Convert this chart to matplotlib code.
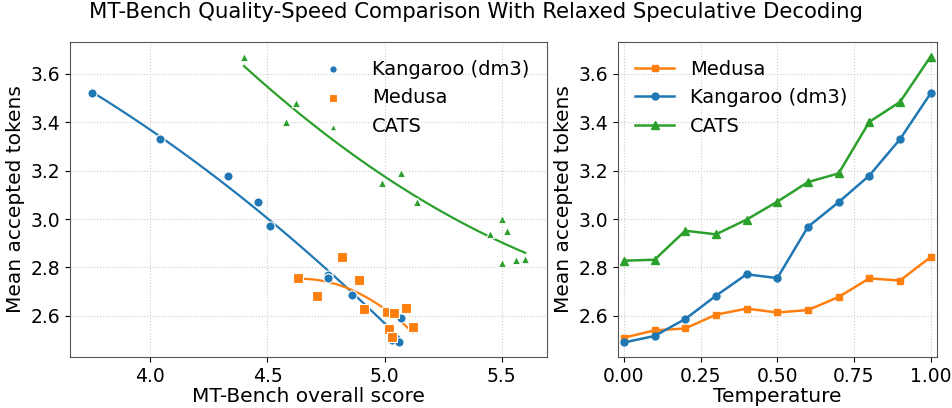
import numpy as np
import matplotlib
matplotlib.use("Agg")
import matplotlib.pyplot as plt

plt.rcParams.update({"font.size": 14, "axes.edgecolor": "#555555"})

C_MED, C_KAN, C_CATS = "#ff7f0e", "#1f77b4", "#2ca02c"

# ---- left panel: MT-Bench score vs mean accepted tokens
kan_score = [3.75, 4.04, 4.33, 4.46, 4.51, 4.76, 4.76, 4.86, 5.07, 5.03, 5.06]
kan_tok = [3.52, 3.33, 3.18, 3.07, 2.97, 2.77, 2.755, 2.685, 2.59, 2.50, 2.49]

med_score = [4.63, 4.71, 4.82, 4.89, 4.91, 5.01, 5.04, 5.09, 5.12, 5.02, 5.03]
med_tok = [2.758, 2.681, 2.845, 2.749, 2.629, 2.618, 2.61, 2.634, 2.553, 2.545, 2.513]

cats_score = [4.40, 4.62, 4.58, 4.99, 5.07, 5.14, 5.45, 5.50, 5.52, 5.50, 5.56, 5.60]
cats_tok = [3.67, 3.48, 3.40, 3.15, 3.19, 3.07, 2.937, 3.00, 2.95, 2.82, 2.83, 2.835]

# ---- right panel: temperature sweep
temps = [0.0, 0.1, 0.2, 0.3, 0.4, 0.5, 0.6, 0.7, 0.8, 0.9, 1.0]
med_t = [2.51, 2.54, 2.548, 2.605, 2.63, 2.614, 2.624, 2.678, 2.755, 2.746, 2.843]
kan_t = [2.49, 2.517, 2.587, 2.683, 2.772, 2.756, 2.968, 3.07, 3.18, 3.33, 3.52]
cats_t = [2.828, 2.832, 2.952, 2.937, 2.998, 3.072, 3.153, 3.189, 3.402, 3.484, 3.672]

fig, (axL, axR) = plt.subplots(1, 2, figsize=(9.52, 4.08), dpi=100,
                               gridspec_kw={"width_ratios": [477, 319]})
fig.subplots_adjust(left=0.0735, right=0.984, top=0.897, bottom=0.125, wspace=0.178)


def fit_curve(ax, x, y, color):
    c = np.polyfit(x, y, 2)
    xs = np.linspace(min(x), max(x), 100)
    ax.plot(xs, np.polyval(c, xs), color=color, lw=1.6, zorder=2)


fit_curve(axL, kan_score, kan_tok, C_KAN)
fit_curve(axL, med_score, med_tok, C_MED)
fit_curve(axL, cats_score, cats_tok, C_CATS)
axL.scatter(kan_score, kan_tok, s=44, marker="o", color=C_KAN, edgecolor="white",
            lw=0.8, label="Kangaroo (dm3)", zorder=3)
axL.scatter(med_score, med_tok, s=48, marker="s", color=C_MED, edgecolor="white",
            lw=0.8, label="Medusa", zorder=3)
axL.scatter(cats_score, cats_tok, s=36, marker="^", color=C_CATS, edgecolor="white",
            lw=0.8, label="CATS", zorder=3)
axL.set_xlabel("MT-Bench overall score", fontsize=14.5, labelpad=1)
axL.set_ylabel("Mean accepted tokens", fontsize=14.5)
axL.set_xticks([4.0, 4.5, 5.0, 5.5])
axL.legend(loc="upper right", frameon=False, markerscale=0.8, handletextpad=1.0)

axR.plot(temps, med_t, "-s", color=C_MED, ms=5, lw=1.8, label="Medusa")
axR.plot(temps, kan_t, "-o", color=C_KAN, ms=5, lw=1.8, label="Kangaroo (dm3)")
axR.plot(temps, cats_t, "-^", color=C_CATS, ms=6, lw=1.8, label="CATS")
axR.set_xlabel("Temperature", labelpad=1, fontsize=14.5)
axR.set_ylabel("Mean accepted tokens", fontsize=14.5)
axR.set_xticks([0.0, 0.25, 0.5, 0.75, 1.0])
axR.set_xlim(-0.02, 1.02)
axR.legend(loc="upper left", frameon=False)

for ax in (axL, axR):
    ax.grid(True, ls=":", color="#cccccc", lw=0.8)
    ax.set_axisbelow(True)
    ax.tick_params(labelsize=13.5)
    ax.set_ylim(2.43, 3.732)
    ax.set_yticks([2.6, 2.8, 3.0, 3.2, 3.4, 3.6])

fig.suptitle("MT-Bench Quality-Speed Comparison With Relaxed Speculative Decoding",
             fontsize=15.3, y=0.995)
fig.savefig("out.png", dpi=100)
